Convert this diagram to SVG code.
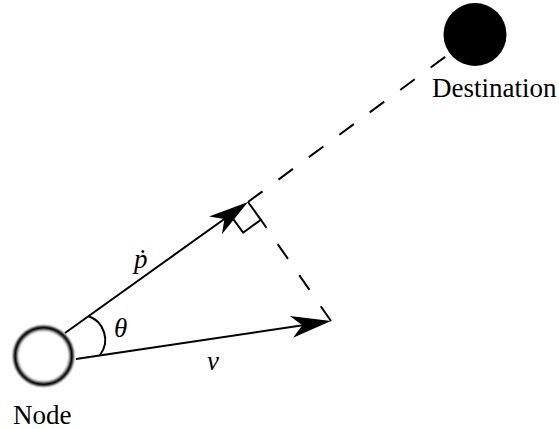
<svg xmlns="http://www.w3.org/2000/svg" width="559" height="429" viewBox="0 0 559 429">
<style>
.ln{fill:none;stroke:#000;stroke-width:2}
.dash{fill:none;stroke:#000;stroke-width:2;stroke-dasharray:18 19.8}
text{font-family:'Liberation Serif','DejaVu Serif',serif;font-size:27px;fill:#000}
.math{font-style:italic}
</style>
<defs>
<marker id="arr" viewBox="-33 -12 42 24" markerWidth="42" markerHeight="24" refX="0" refY="0" orient="auto" markerUnits="userSpaceOnUse">
<path d="M8,0 L-32,-11 L-21,0 L-32,11 Z" fill="#000"/>
</marker>
<filter id="soft" x="-20%" y="-20%" width="140%" height="140%">
<feGaussianBlur stdDeviation="0.8"/>
</filter>
</defs>
<g id="connectors">
<path class="ln" d="M65,333 L241.5,206.7" marker-end="url(#arr)"/>
<path class="ln" d="M76,359 L323.1,322.2" marker-end="url(#arr)"/>
<path class="dash" d="M248,202 L449,54"/>
<path class="dash" d="M331,321 L260.9,219.8"/>
<polyline class="ln" points="248,202 260.9,219.8 243.1,232.7 230.2,214.9"/>
<path class="ln" d="M88,316 A25,25 0 0,1 100,355"/>
</g>
<g id="node">
<circle cx="43.5" cy="356" r="28" fill="#fff" stroke="#000" stroke-width="4.5" filter="url(#soft)"/>
<text font-family="Liberation Serif, serif" x="13" y="424">Node</text>
</g>
<g id="destination">
<circle cx="475" cy="34.5" r="31.5" fill="#000"/>
<text font-family="Liberation Serif, serif" x="432" y="97">Destination</text>
</g>
<g id="labels">
<text class="math" font-family="Liberation Serif, serif" x="134" y="268">ṗ</text>
<text class="math" font-family="Liberation Serif, serif" x="114" y="337">θ</text>
<text class="math" font-family="Liberation Serif, serif" x="207" y="370">v</text>
</g>
</svg>
